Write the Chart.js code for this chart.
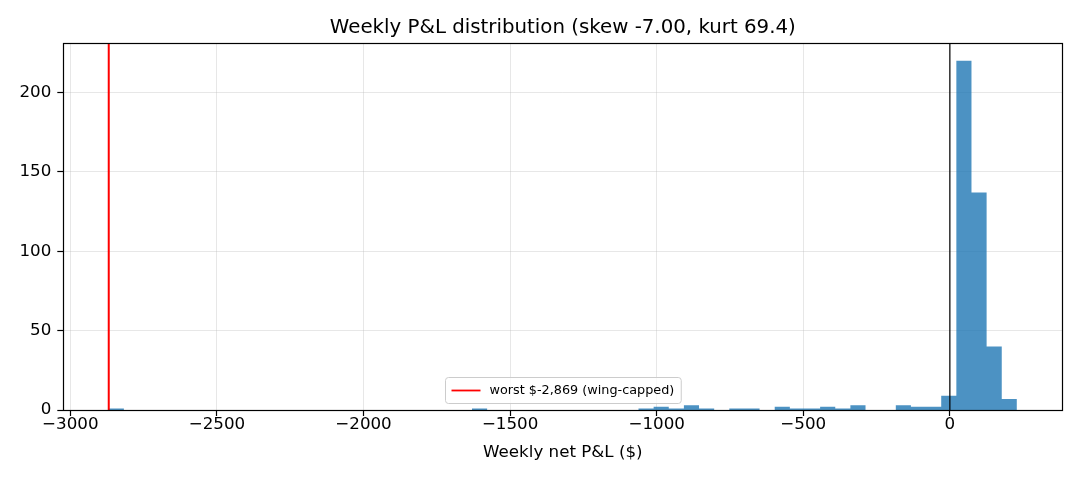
<!DOCTYPE html>
<html><head><meta charset="utf-8">
<script src="https://cdn.jsdelivr.net/npm/chart.js@4.4.1/dist/chart.umd.min.js"></script>
<style>html,body{margin:0;padding:0;background:#fff}canvas{display:block}</style>
</head><body>
<div style="width:1080px;height:480px"><canvas id="c" width="1080" height="480"></canvas></div>
<script>
// ---- data ----
const TITLE = 'Weekly P&L distribution (skew -7.00, kurt 69.4)';
const X_LABEL = 'Weekly net P&L ($)';
const LEGEND_LABEL = 'worst $-2,869 (wing-capped)';
const BIN_LO = -2869;          // lowest weekly P&L (left edge of first bin)
const BIN_HI = 228.6;          // highest weekly P&L (right edge of last bin)
const BIN_COUNTS = [
  1, 0, 0, 0, 0, 0, 0, 0, 0, 0,
  0, 0, 0, 0, 0, 0, 0, 0, 0, 0,
  0, 0, 0, 0, 1, 0, 0, 0, 0, 0,
  0, 0, 0, 0, 0, 1, 2, 1, 3, 1,
  0, 1, 1, 0, 2, 1, 1, 2, 1, 3,
  0, 0, 3, 2, 2, 9, 220, 137, 40, 7
];
const WORST = -2869;
const ZERO_LINE = 0;
const X_TICKS = [-3000, -2500, -2000, -1500, -1000, -500, 0];
const Y_TICKS = [0, 50, 100, 150, 200];
const X_LIMITS = [-3024, 383.5];
const Y_LIMITS = [0, 231];

// ---- build ----
const nBins = BIN_COUNTS.length;
const binW = (BIN_HI - BIN_LO) / nBins;
const histPts = BIN_COUNTS.map((c, i) => ({x: BIN_LO + i * binW, y: c}));
histPts.push({x: BIN_HI, y: 0});

const FONT = "'DejaVu Sans', 'Liberation Sans', sans-serif";
Chart.defaults.color = '#000';
Chart.defaults.font.family = FONT;

const fmt = v => (v < 0 ? '\u2212' : '') + Math.abs(v);

const framePlugin = {
  id: 'frame',
  afterDatasetsDraw(chart) {
    const {ctx, chartArea: a} = chart;
    ctx.save();
    ctx.strokeStyle = '#000';
    ctx.lineWidth = 1.2;
    ctx.strokeRect(Math.round(a.left) + 0.5, Math.round(a.top) + 0.5,
      Math.round(a.right) - Math.round(a.left), Math.round(a.bottom) - Math.round(a.top));
    // legend (lower center, inside axes)
    ctx.font = '12.8px ' + FONT;
    const tw = ctx.measureText(LEGEND_LABEL).width;
    const w = 44 + tw + 7, h = 26;
    const cx = (a.left + a.right) / 2;
    const x0 = Math.round(cx - w / 2) + 0.5, y0 = Math.round(a.bottom - 7 - h) + 0.5;
    ctx.beginPath();
    ctx.roundRect(x0, y0, w, h, 3);
    ctx.fillStyle = 'rgba(255,255,255,0.8)';
    ctx.fill();
    ctx.strokeStyle = '#cccccc';
    ctx.lineWidth = 1;
    ctx.stroke();
    const ym = y0 + h / 2;
    ctx.beginPath();
    ctx.moveTo(x0 + 6, ym);
    ctx.lineTo(x0 + 35, ym);
    ctx.strokeStyle = '#ff0000';
    ctx.lineWidth = 1.8;
    ctx.stroke();
    ctx.fillStyle = '#000';
    ctx.textBaseline = 'middle';
    ctx.textAlign = 'left';
    ctx.fillText(LEGEND_LABEL, x0 + 44, ym);
    ctx.restore();
  }
};

new Chart(document.getElementById('c'), {
  type: 'line',
  data: {
    datasets: [
      {
        label: 'zero',
        data: [{x: ZERO_LINE, y: Y_LIMITS[0]}, {x: ZERO_LINE, y: Y_LIMITS[1]}],
        borderColor: '#000', borderWidth: 1.2, pointRadius: 0, fill: false, order: 0
      },
      {
        label: LEGEND_LABEL,
        data: [{x: WORST, y: Y_LIMITS[0]}, {x: WORST, y: Y_LIMITS[1]}],
        borderColor: '#ff0000', borderWidth: 2, pointRadius: 0, fill: false, order: 0
      },
      {
        label: 'hist',
        data: histPts,
        stepped: 'before',
        fill: 'origin',
        backgroundColor: 'rgba(31,119,180,0.8)',
        borderColor: 'rgba(0,0,0,0)',
        borderWidth: 0,
        pointRadius: 0,
        order: 5
      }
    ]
  },
  options: {
    responsive: false,
    animation: false,
    devicePixelRatio: 1,
    layout: {padding: {left: 0, right: 17.7, top: 0, bottom: 0}},
    plugins: {
      legend: {display: false},
      tooltip: {enabled: false},
      title: {
        display: true, text: TITLE, color: '#000', fullSize: false,
        font: {family: FONT, size: 19.8, weight: 'normal'},
        padding: {top: 15.5, bottom: 4}
      }
    },
    scales: {
      x: {
        type: 'linear', min: X_LIMITS[0], max: X_LIMITS[1], bounds: 'data',
        afterBuildTicks: s => { s.ticks = X_TICKS.map(v => ({value: v})); },
        afterFit: s => { s.height = 70; },
        ticks: {callback: fmt, font: {size: 16.7, lineHeight: 1.0}, padding: 0, maxRotation: 0, autoSkip: false},
        grid: {color: 'rgba(176,176,176,0.3)', lineWidth: 1, tickColor: '#000', tickLength: 6, tickWidth: 1.2},
        border: {display: false},
        title: {display: true, text: X_LABEL, font: {size: 16.7}, padding: {top: 0, bottom: 17}}
      },
      y: {
        type: 'linear', min: Y_LIMITS[0], max: Y_LIMITS[1], bounds: 'data',
        afterBuildTicks: s => { s.ticks = Y_TICKS.map(v => ({value: v})); },
        afterFit: s => { s.width = 63.3; },
        ticks: {callback: fmt, font: {size: 16.7}, padding: 6},
        grid: {color: 'rgba(176,176,176,0.3)', lineWidth: 1, tickColor: '#000', tickLength: 6, tickWidth: 1.2},
        border: {display: false}
      }
    }
  },
  plugins: [framePlugin]
});
</script>
</body></html>
